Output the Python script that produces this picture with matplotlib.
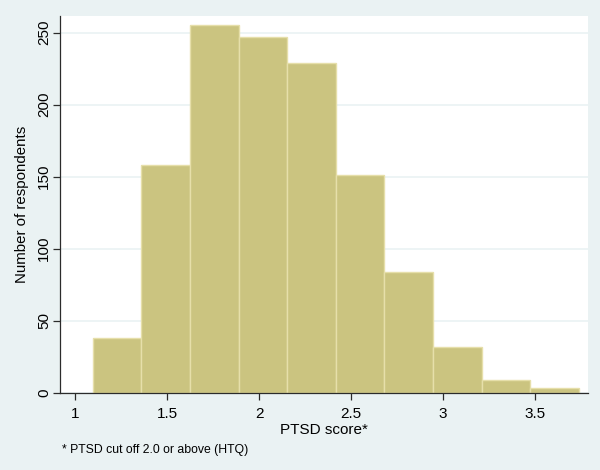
import numpy as np
import matplotlib.pyplot as plt

# histogram: 10 bins from 1.1 to ~3.74
bin_start = 1.096
bin_width = 0.2643
counts = [38, 158, 255, 247, 229, 151, 84, 32, 9, 3]
xticks = [1, 1.5, 2, 2.5, 3, 3.5]
xticklabels = ['1', '1.5', '2', '2.5', '3', '3.5']
yticks = [0, 50, 100, 150, 200, 250]

plt.rcParams['font.family'] = ['Liberation Sans', 'DejaVu Sans']

bg = '#EAF2F3'
fig = plt.figure(figsize=(6, 4.7), dpi=100, facecolor=bg)
ax = fig.add_axes([0.1, 0.1645, 0.88, 0.8015])
ax.set_facecolor('white')

edges = bin_start + bin_width * np.arange(len(counts))
ax.bar(edges, counts, width=bin_width, align='edge', color='#CBC480',
       edgecolor='#E6DFAA', linewidth=1.0, zorder=2)

ax.set_xlim(0.918, 3.788)
ax.set_ylim(0, 261.6)
ax.set_xticks(xticks)
ax.set_xticklabels(xticklabels)
ax.set_yticks(yticks)
ax.set_yticklabels([str(v) for v in yticks], rotation=90, va='center')
ax.yaxis.grid(True, color='#EAF2F3', linewidth=1.2, zorder=0)
ax.set_axisbelow(True)

for s in ['top', 'right']:
    ax.spines[s].set_visible(False)
for s in ['left', 'bottom']:
    ax.spines[s].set_color('#2b2b2b')
    ax.spines[s].set_linewidth(0.9)
ax.tick_params(axis='both', direction='out', length=5, width=0.9,
               color='#2b2b2b', labelsize=11)
ax.tick_params(axis='x', pad=5.5)
ax.tick_params(axis='y', pad=1.5)

ax.set_xlabel('PTSD score*', fontsize=11, labelpad=1)
ax.set_ylabel('Number of respondents', fontsize=10.8, labelpad=5.5)
fig.text(0.104, 0.0426, '* PTSD cut off 2.0 or above (HTQ)', fontsize=8.8,
         va='center')

fig.savefig('out.png', dpi=100, facecolor=bg)
